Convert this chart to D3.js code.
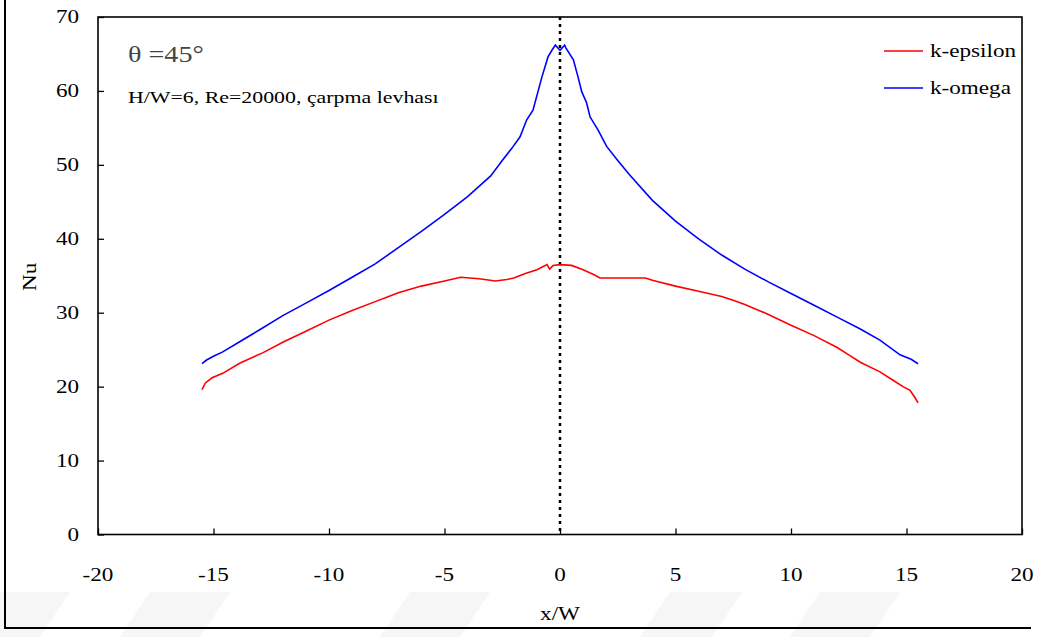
<!DOCTYPE html>
<html>
<head>
<meta charset="utf-8">
<script src="https://cdn.jsdelivr.net/npm/d3@7/dist/d3.min.js"></script>
<style>
  html, body { margin: 0; padding: 0; background: #fff; }
  svg { display: block; }
  text { font-family: "Liberation Serif", "Times New Roman", serif; fill: #000; }
</style>
</head>
<body>
<svg id="chart" width="1048" height="637"></svg>
<script>
// ---- Data ----
const xTicks = [-20, -15, -10, -5, 0, 5, 10, 15, 20];
const yTicks = [0, 10, 20, 30, 40, 50, 60, 70];

const seriesNames = ["k-epsilon", "k-omega"];
const seriesColors = ["#ff0000", "#0000ff"];

// k-epsilon
const xEps = [-15.5, -15.35, -15.06, -14.6, -13.85, -12.85, -12.0, -11.0, -10.0, -9.0, -8.0, -7.5, -7.0, -6.0, -5.0,
  -4.3, -3.5, -2.8, -2.3, -2.0, -1.5, -1.0, -0.56, -0.45, -0.3, 0.0, 0.5, 1.0, 1.5, 1.73, 2.5, 3.0, 3.7, 4.0,
  5.0, 6.0, 7.0, 7.5, 8.0, 9.0, 10.0, 11.0, 12.0, 12.5, 13.0, 13.85, 14.4, 14.85, 15.15, 15.35, 15.5];
const nuEps = [19.6, 20.5, 21.2, 21.8, 23.2, 24.6, 26.0, 27.5, 29.0, 30.3, 31.5, 32.1, 32.7, 33.6, 34.3,
  34.8, 34.6, 34.3, 34.5, 34.7, 35.3, 35.8, 36.5, 35.9, 36.4, 36.5, 36.4, 35.8, 35.1, 34.7, 34.7, 34.7, 34.7, 34.4,
  33.6, 32.9, 32.2, 31.7, 31.1, 29.8, 28.3, 26.9, 25.3, 24.3, 23.3, 22.0, 20.9, 20.0, 19.5, 18.6, 17.8];

// k-omega
const xOmg = [-15.5, -15.3, -15.0, -14.6, -13.85, -13.0, -12.0, -11.0, -10.0, -9.0, -8.0, -7.0, -6.0, -5.0, -4.0,
  -3.0, -2.5, -2.07, -1.73, -1.44, -1.17, -0.79, -0.52, -0.35, -0.2, 0.0, 0.2, 0.26, 0.58, 0.78, 0.94, 1.15, 1.3,
  1.65, 2.02, 2.5, 3.0, 4.0, 5.0, 6.0, 7.0, 8.0, 9.0, 10.0, 11.0, 12.0, 13.0, 13.85, 14.72, 15.2, 15.5];
const nuOmg = [23.1, 23.6, 24.1, 24.7, 26.1, 27.7, 29.6, 31.3, 33.0, 34.8, 36.6, 38.8, 41.0, 43.3, 45.7,
  48.5, 50.6, 52.3, 53.8, 56.1, 57.4, 61.8, 64.6, 65.5, 66.2, 65.5, 66.2, 65.8, 64.2, 61.9, 59.9, 58.4, 56.5,
  54.7, 52.5, 50.6, 48.7, 45.2, 42.4, 40.0, 37.8, 35.9, 34.2, 32.6, 31.0, 29.4, 27.8, 26.3, 24.3, 23.7, 23.1];

const annotTitle = "\u03b8 =45\u00b0";
const annotSub = "H/W=6, Re=20000, \u00e7arpma levhas\u0131";
const xLabel = "x/W";
const yLabel = "Nu";

// ---- Layout ----
const svg = d3.select("#chart");
const L = 98, R = 1022, T = 17, B = 534.5;
const SX = 1.25; // horizontal stretch of the original text

const x = d3.scaleLinear().domain([-20, 20]).range([L, R]);
const y = d3.scaleLinear().domain([0, 70]).range([B, T]);

// faint watermark stripes at bottom
const stripes = [[-30, 40], [120, 200], [380, 460], [640, 712], [790, 870]];
svg.append("g").selectAll("path").data(stripes).join("path")
  .attr("d", d => `M${d[0]},637 L${d[0] + 30},592 L${d[1] + 30},592 L${d[1]},637 Z`)
  .attr("fill", "#f6f6f6");

// outer frame (left and bottom)
svg.append("path").attr("d", "M5,0 L5,628 L1031,628")
  .attr("fill", "none").attr("stroke", "#000").attr("stroke-width", 2);

function stretchedText(g, tx, ty, str, size, anchor, color) {
  return g.append("text")
    .attr("transform", `translate(${tx},${ty}) scale(${SX},1)`)
    .attr("text-anchor", anchor || "start")
    .attr("font-size", size)
    .style("fill", color || "#000")
    .text(str);
}

// axes
const xAxis = d3.axisBottom(x).tickValues(xTicks).tickSizeInner(-6).tickSizeOuter(0).tickPadding(0).tickFormat(() => "");
const yAxis = d3.axisLeft(y).tickValues(yTicks).tickSizeInner(-6).tickSizeOuter(0).tickPadding(0).tickFormat(() => "");

const gx = svg.append("g").attr("transform", `translate(0,${B})`).call(xAxis);
const gy = svg.append("g").attr("transform", `translate(${L},0)`).call(yAxis);
[gx, gy].forEach(g => {
  g.select(".domain").remove();
  g.selectAll(".tick line").attr("stroke", "#000").attr("stroke-width", 1.3);
});

// tick labels
const lab = svg.append("g");
xTicks.forEach(v => stretchedText(lab, x(v), 581, String(v), 18.5, "middle"));
yTicks.forEach(v => stretchedText(lab, 79, y(v) + 6, String(v), 18.5, "end"));

// plot box
svg.append("rect").attr("x", L).attr("y", T).attr("width", R - L).attr("height", B - T)
  .attr("fill", "none").attr("stroke", "#000").attr("stroke-width", 1.6);

// vertical dotted line at x=0
svg.append("line").attr("x1", x(0)).attr("x2", x(0)).attr("y1", T).attr("y2", B)
  .attr("stroke", "#000").attr("stroke-width", 2.5).attr("stroke-dasharray", "3,4");

// series lines
const line = d3.line().x(d => x(d[0])).y(d => y(d[1]));
const series = [d3.zip(xEps, nuEps), d3.zip(xOmg, nuOmg)];
svg.append("g").selectAll("path").data(series).join("path")
  .attr("d", line)
  .attr("fill", "none")
  .attr("stroke", (d, i) => seriesColors[i])
  .attr("stroke-width", 1.6);

// legend
const lg = svg.append("g");
seriesNames.forEach((n, i) => {
  const ly = 51 + i * 37;
  lg.append("line").attr("x1", 884).attr("x2", 923).attr("y1", ly).attr("y2", ly)
    .attr("stroke", seriesColors[i]).attr("stroke-width", 1.6);
  stretchedText(lg, 930, ly + 6, n, 18.5, "start");
});

// annotations
stretchedText(svg, 128, 62, annotTitle, 22.5, "start", "#444");
stretchedText(svg, 128, 103, annotSub, 17.5, "start");

// axis titles
stretchedText(svg, 560, 620, xLabel, 18.5, "middle");
svg.append("text")
  .attr("transform", `translate(36,${(T + B) / 2 + 1}) rotate(-90) scale(${SX},1)`)
  .attr("text-anchor", "middle").attr("font-size", 18.5).text(yLabel);
</script>
</body>
</html>
